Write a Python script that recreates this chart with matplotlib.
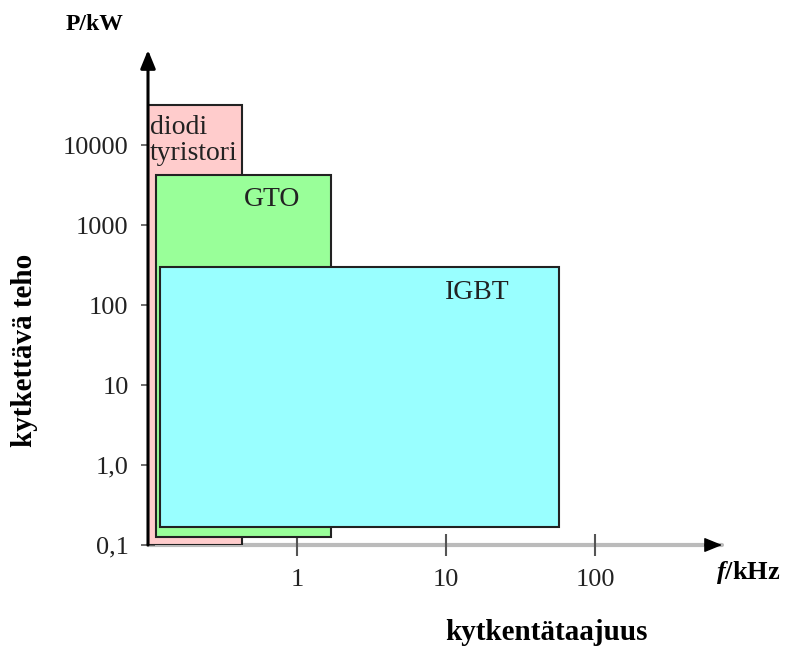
import matplotlib
matplotlib.use("Agg")
import matplotlib.pyplot as plt
from matplotlib.patches import Rectangle

# Device regions: (label, f_min kHz, f_max kHz, P_min kW, P_max kW)
devices = ["diodi\ntyristori", "GTO", "IGBT"]
f_min = [0.1, 0.113, 0.12]
f_max = [0.43, 1.69, 57.0]
p_min = [0.1, 0.126, 0.168]
p_max = [31600.0, 4200.0, 300.0]
colors = ["#ffcccc", "#99ff99", "#99ffff"]

# label anchor positions (data coords) for each region text
label_x = [0.103, 0.44, 9.8]
label_y = [24000.0, 3000.0, 205.0]

x_ticks = [1, 10, 100]
x_ticklabels = ["1", "10", "100"]
y_ticks = [0.1, 1, 10, 100, 1000, 10000]
y_ticklabels = ["0,1", "1,0", "10", "100", "1000", "10000"]

plt.rcParams['font.family'] = ['Liberation Serif', 'DejaVu Serif']
plt.rcParams['mathtext.fontset'] = 'custom'
plt.rcParams['mathtext.bfit'] = 'Liberation Serif:italic:bold'
plt.rcParams['mathtext.rm'] = 'Liberation Serif:bold'

fig = plt.figure(figsize=(7.95, 6.48), dpi=100)
W, H = 795, 648
x0, y0 = 148, 545
x1, y1 = 722, 50
ax = fig.add_axes([x0 / W, (H - y0) / H, (x1 - x0) / W, (y0 - y1) / H])
ax.set_xscale("log")
ax.set_yscale("log")
ax.set_xlim(0.1, 0.1 * 10 ** ((x1 - x0) / 149.0))
ax.set_ylim(0.1, 0.1 * 10 ** ((y0 - y1) / 80.0))
for s in ax.spines.values():
    s.set_visible(False)
ax.patch.set_alpha(0)

for i, name in enumerate(devices):
    r = Rectangle((f_min[i], p_min[i]), f_max[i] - f_min[i], p_max[i] - p_min[i],
                  facecolor=colors[i], edgecolor="#222222", linewidth=1.5, zorder=2 + i)
    ax.add_patch(r)
    ax.text(label_x[i], label_y[i], name, ha="left", va="top", fontsize=20,
            color="#222222", zorder=10, linespacing=1.05)

# axes with arrows
ax.annotate("", xy=(1.0, 0.0), xytext=(0.0, 0.0), xycoords="axes fraction",
            arrowprops=dict(arrowstyle="-", color="#bbbbbb", lw=3,
                            shrinkA=0, shrinkB=0), zorder=1)
ax.annotate("", xy=(1.0, 0.0), xytext=(0.97, 0.0), xycoords="axes fraction",
            arrowprops=dict(arrowstyle="-|>,head_length=1.1,head_width=0.45",
                            color="black", lw=1, shrinkA=0, shrinkB=0), zorder=1)
ax.annotate("", xy=(0.0, 1.0), xytext=(0.0, 0.0), xycoords="axes fraction",
            arrowprops=dict(arrowstyle="-|>,head_length=1.1,head_width=0.45",
                            color="black", lw=2.2, shrinkA=0, shrinkB=0), zorder=20)

ax.set_xticks(x_ticks)
ax.set_xticklabels(x_ticklabels)
ax.set_yticks(y_ticks)
ax.set_yticklabels(y_ticklabels)
ax.minorticks_off()
ax.tick_params(axis="x", direction="inout", length=16, width=1.5, color="#555555",
               pad=9, labelsize=19, labelcolor="#222222")
ax.tick_params(axis="y", direction="inout", length=10, width=1.2, color="#555555",
               pad=9, labelsize=19, labelcolor="#222222")

fig.text(95 / W, 1 - 25 / H, "P/kW", ha="center", va="center", fontsize=17,
         fontweight="bold")
fig.text(25 / W, 1 - 350 / H, "kytkettävä teho", ha="center", va="center",
         rotation=90, fontsize=21, fontweight="bold")
fig.text(546 / W, 1 - 632 / H, "kytkentätaajuus", ha="center", va="center",
         fontsize=21, fontweight="bold")
fig.text(716 / W, 1 - 572 / H, r"$\mathbfit{f}$/kHz", ha="left", va="center",
         fontsize=19, fontweight="bold")

fig.savefig("out.png", dpi=100)
